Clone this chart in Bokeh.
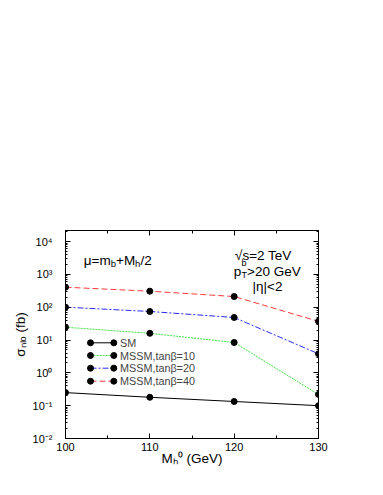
import math
from bokeh.plotting import figure
from bokeh.models import (Range1d, LogAxis, LinearAxis, LogTicker, SingleIntervalTicker,
                          CustomJSTickFormatter, Label)
from bokeh.embed import file_html
from bokeh.resources import INLINE

# ---- data ----
mass = [100, 110, 120, 130]
sigma_sm = [0.25, 0.18, 0.134, 0.10]
sigma_tb10 = [24.5, 16.0, 8.4, 0.22]
sigma_tb20 = [100.0, 74.0, 48.5, 3.8]
sigma_tb40 = [406.0, 307.0, 211.0, 37.0]
series_labels = ["SM", "MSSM,tan\u03b2=10", "MSSM,tan\u03b2=20", "MSSM,tan\u03b2=40"]
x_title = "M\u2095\u2070 (GeV)"
y_title = "\u03c3\u2099\u2097\u2092 (fb)"

FONT = "Liberation Sans"

# ---- layout geometry (page pixels) ----
W, H = 375, 487
FL, FR, FT, FB = 65, 318, 230, 438          # frame edges on page
DEC = 32.83                                  # px per decade
Y_TOP_LOG = -2 + (FB - FT) / DEC

def X(px):
    return 100 + (px - FL) * 30.0 / (FR - FL)

def Y(py):
    return 10 ** (-2 + (FB - py) / DEC)

p = figure(width=W, height=H,
           x_range=Range1d(100, 130), y_range=Range1d(1e-2, 10 ** Y_TOP_LOG),
           y_axis_type="log", output_backend="svg", toolbar_location=None,
           min_border_left=FL, min_border_right=W - FR,
           min_border_top=FT, min_border_bottom=H - FB)
p.grid.visible = False
p.outline_line_color = "black"
p.background_fill_color = "white"
p.border_fill_color = "white"

sup_js = """
const sup = {'-':'\u207b','0':'\u2070','1':'\u00b9','2':'\u00b2','3':'\u00b3','4':'\u2074',
             '5':'\u2075','6':'\u2076','7':'\u2077','8':'\u2078','9':'\u2079'};
const e = Math.round(Math.log10(tick));
return '10' + String(e).split('').map(c => sup[c]).join('');
"""

def common(ax):
    ax.major_tick_out = 0
    ax.minor_tick_out = 0
    ax.axis_line_color = "black"
    ax.major_tick_line_color = "black"
    ax.minor_tick_line_color = "black"
    ax.axis_label_text_font = FONT
    ax.axis_label_text_font_style = "normal"
    ax.axis_label_text_font_size = "13.5px"
    ax.axis_label_text_color = "black"

def style_y(ax, labels=True):
    common(ax)
    ax.ticker = LogTicker(num_minor_ticks=10)
    ax.major_tick_in = 5
    ax.minor_tick_in = 2
    if labels:
        ax.formatter = CustomJSTickFormatter(code=sup_js)
        ax.major_label_text_font = FONT
        ax.major_label_text_font_size = "11px"
        ax.major_label_text_color = "black"
        ax.major_label_standoff = 13
        ax.axis_label = y_title
        ax.axis_label_standoff = 2
    else:
        ax.major_label_text_font_size = "0px"
        ax.major_label_text_alpha = 0

def style_x(ax, labels=True):
    common(ax)
    ax.ticker = SingleIntervalTicker(interval=10, num_minor_ticks=2)
    ax.major_tick_in = 5
    ax.minor_tick_in = 3
    if labels:
        ax.major_label_text_font = FONT
        ax.major_label_text_font_size = "11px"
        ax.major_label_text_color = "black"
        ax.major_label_standoff = 4
        ax.axis_label = x_title
        ax.axis_label_standoff = -3
    else:
        ax.major_label_text_font_size = "0px"
        ax.major_label_text_alpha = 0

style_y(p.yaxis[0])
style_x(p.xaxis[0])
ry = LogAxis()
style_y(ry, labels=False)
p.add_layout(ry, "right")
tx = LinearAxis()
style_x(tx, labels=False)
p.add_layout(tx, "above")

# ---- curves ----
styles = [
    (sigma_sm, "black", "solid"),
    (sigma_tb10, "#44e044", "2 1"),
    (sigma_tb20, "#2a2aff", "6 2 2 2"),
    (sigma_tb40, "#ff3b3b", "6 3"),
]
for vals, col, dash in styles:
    p.line(mass, vals, line_color=col, line_width=1, line_dash=dash)
    p.scatter(mass, vals, size=6, fill_color="black", line_color="black")

# ---- legend (drawn by hand: line between two dots) ----
rows = [342.3, 355.0, 367.7, 380.7]
for (vals, col, dash), lab_txt, ry_px in zip(styles, series_labels, rows):
    xs = [X(90), X(113.3)]
    ys = [Y(ry_px), Y(ry_px)]
    p.line(xs, ys, line_color=col, line_width=1, line_dash=dash)
    p.scatter(xs, ys, size=6, fill_color="black", line_color="black")
    p.add_layout(Label(x=X(119.5), y=Y(ry_px), text=lab_txt, text_font=FONT,
                       text_font_size="10.8px", text_baseline="middle", text_align="left"))

def lab(px, py, text, size="13.5px"):
    p.add_layout(Label(x=X(px), y=Y(py), text=text, text_font=FONT, text_font_size=size,
                       text_align="left", text_baseline="alphabetic", text_color="black"))

# mu = m_b + M_h/2
lab(83.3, 260, "\u03bc=m")
lab(110.2, 263, "b", "9.5px")
lab(115.5, 260, "+M")
lab(134.6, 263, "h", "9.5px")
lab(139.9, 260, "/2")

# sqrt(s) = 2 TeV, pT^b > 20 GeV, |eta| < 2
lab(234.5, 255, "\u221as=2 TeV")
lab(233.3, 271, "p")
lab(241.0, 274, "T", "9px")
lab(241.0, 262, "b", "9px")
lab(246.5, 271, ">20 GeV")
lab(252.0, 286, "|\u03b7|<2")

open("out.html", "w").write(file_html(p, INLINE))
